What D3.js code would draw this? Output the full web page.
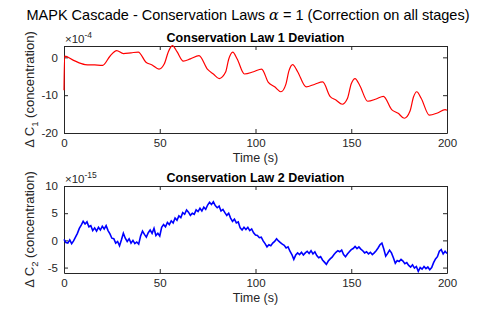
<!DOCTYPE html>
<html>
<head>
<meta charset="utf-8">
<script src="https://cdn.jsdelivr.net/npm/d3@7"></script>
<style>
  body { margin: 0; background: #fff; }
  svg { font-family: "Liberation Sans", Arial, sans-serif; }
  .tick text { fill: #262626; font-size: 11.5px; }
  .domain, .tick line { stroke: #262626; }
</style>
</head>
<body>
<svg width="495" height="315"></svg>
<script>
// Conservation law 1 (units of 1e-4)
var law1Time = [0, 0.3, 5, 11, 16, 20.2, 24, 27.5, 31, 35, 38.8, 42.8, 46, 49.6, 52.4, 54.5, 56.6, 59, 62.3, 66,
  70.5, 75, 78, 81.1, 84.4, 86, 88.1, 90.5, 94.2, 99, 103.2, 106.7, 110, 113.3, 115.8, 117.5, 119.4, 122, 126.4,
  131, 135.1, 138.9, 142, 145.3, 148, 150, 152, 154.5, 158.6, 163, 166.8, 171.1, 174.5, 177.7, 180.7, 182.5,
  184.2, 186.5, 190.8, 195, 199, 200]
var law1Value = [-8.7, 0.3, -0.8, -1.9, -2.0, -2.1, 0.3, 1.8, 1.0, 1.2, 1.4, -1.3, -2.0, -3.1, -1.7, 1.5, 3.1, 1.5, -1.0, -0.4,
  0.45, -3.2, -4.4, -5.6, -3.9, -0.5, 1.4, -0.5, -4.4, -3.8, -3.1, -6.6, -7.8, -9.1, -7.2, -3.5, -1.9, -3.8, -7.8,
  -7.1, -6.5, -10.3, -11.3, -12.4, -10.9, -7.0, -5.6, -7.5, -11.6, -11.0, -10.3, -13.8, -14.8, -16.1, -14.2, -10.5,
  -9.1, -10.8, -15.3, -14.7, -13.8, -14.0]

// Conservation law 2 (units of 1e-15), one value per second, t = 0..200
var law2Value = [0.2, -0.4, -0.5, 0.1, -0.6, -0.1, 0.6, 1.3, 2.2, 2.8, 3.5, 3.0, 3.4, 2.5, 2.7, 1.8, 2.3, 1.7, 2.4, 1.9,
  2.6, 2.1, 2.7, 1.8, 1.2, 0.4, 0.3, -0.5, -0.2, -1.0, 0.1, 1.3, 0.4, -0.2, 0.3, -0.5, 0.0, -0.6, -0.3, -0.7,
  0.8, 1.7, 1.1, 0.6, 1.4, 1.9, 1.3, 2.2, 0.9, 1.3, 0.8, 2.4, 2.9, 2.5, 3.3, 2.9, 3.6, 3.2, 4.1, 3.7,
  4.5, 4.2, 5.1, 4.8, 5.6, 5.2, 4.6, 5.0, 4.8, 5.6, 5.3, 5.9, 5.4, 6.1, 5.7, 6.5, 7.0, 6.6, 7.1, 6.4,
  6.0, 6.3, 5.4, 5.7, 5.1, 4.6, 5.0, 4.1, 3.5, 3.9, 3.2, 3.4, 2.3, 1.9, 2.4, 2.0, 2.4, 1.8, 2.1, 1.4,
  1.0, 0.9, 0.5, 0.6, -0.1, -0.6, -1.2, -0.8, -1.0, -0.5, -0.2, 0.3, -0.1, -0.4, -0.7, -0.9, -1.4, -1.2, -2.0, -2.6,
  -3.5, -2.7, -2.3, -2.6, -2.2, -2.7, -2.3, -2.0, -2.4, -1.9, -2.5, -2.1, -2.8, -3.2, -3.0, -3.6, -4.0, -4.4, -3.8, -3.4,
  -3.1, -2.6, -2.2, -1.9, -2.1, -1.8, -2.6, -3.0, -2.5, -2.1, -1.7, -1.5, -1.1, -1.5, -1.2, -1.6, -1.9, -2.3, -2.1, -2.5,
  -2.2, -2.6, -2.3, -1.9, -1.4, -0.8, -0.5, -1.6, -2.9, -2.4, -1.8, -2.3, -3.2, -4.2, -3.7, -3.9, -3.5, -3.8, -4.3, -4.1,
  -4.6, -4.9, -4.5, -5.1, -4.8, -5.7, -5.0, -5.3, -4.8, -5.2, -4.9, -5.4, -5.0, -4.1, -3.4, -3.0, -2.0, -1.7, -2.5, -2.0,
  -2.4]

var xTicks = [0, 50, 100, 150, 200]
var law1Ticks = [-20, -10, 0]
var law2Ticks = [-5, 0, 5, 10]

var svg = d3.select("svg")
var left = 64, right = 447

svg.append("text")
  .attr("x", 248).attr("y", 20)
  .attr("text-anchor", "middle")
  .style("font-size", "14.5px")
  .html("MAPK Cascade - Conservation Laws <tspan font-family='DejaVu Serif' font-style='italic'>α</tspan> = 1 (Correction on all stages)")

function drawPanel(opts) {
  var x = d3.scaleLinear().domain([0, 200]).range([left, right])
  var y = d3.scaleLinear().domain(opts.domain).range([opts.bottom, opts.top])
  var g = svg.append("g")

  g.append("g").attr("transform", "translate(0," + opts.bottom + ")")
    .call(d3.axisBottom(x).tickValues(xTicks).tickSize(-4).tickPadding(6).tickSizeOuter(0))
  g.append("g").attr("transform", "translate(0," + opts.top + ")")
    .call(d3.axisTop(x).tickValues(xTicks).tickSize(-4).tickSizeOuter(0).tickFormat(""))
  g.append("g").attr("transform", "translate(" + left + ",0)")
    .call(d3.axisLeft(y).tickValues(opts.ticks).tickSize(-4).tickPadding(6).tickSizeOuter(0))
  g.append("g").attr("transform", "translate(" + right + ",0)")
    .call(d3.axisRight(y).tickValues(opts.ticks).tickSize(-4).tickSizeOuter(0).tickFormat(""))
  g.selectAll(".tick text").text(function(d) { return d3.select(this).text().replace("−", "-") })

  g.append("path")
    .datum(opts.data)
    .attr("fill", "none")
    .attr("stroke", opts.color)
    .attr("stroke-width", opts.width)
    .attr("d", d3.line().x(d => x(d[0])).y(d => y(d[1])).curve(opts.curve))

  g.append("text")
    .attr("x", (left + right) / 2).attr("y", opts.top - 4)
    .attr("text-anchor", "middle")
    .style("font-size", "12.5px").style("font-weight", "bold")
    .text(opts.title)

  g.append("text")
    .attr("x", left + 1).attr("y", opts.top - 3)
    .style("font-size", "11.5px").attr("fill", "#262626")
    .html("×10<tspan dy='-5' font-size='8.5px'>" + opts.exp + "</tspan>")

  g.append("text")
    .attr("x", (left + right) / 2).attr("y", opts.bottom + 29)
    .attr("text-anchor", "middle")
    .style("font-size", "12.5px").attr("fill", "#262626")
    .text("Time (s)")

  g.append("text")
    .attr("transform", "translate(34," + (opts.top + opts.bottom) / 2 + ") rotate(-90)")
    .attr("text-anchor", "middle")
    .style("font-size", "13px").attr("fill", "#262626")
    .html("Δ C<tspan dy='4' font-size='9.5px'>" + opts.sub + "</tspan><tspan dy='-4'> (concentration)</tspan>")
}

drawPanel({
  top: 46, bottom: 133, domain: [-20, 3], ticks: law1Ticks,
  data: law1Time.map((t, i) => [t, law1Value[i]]),
  color: "#ff0000", title: "Conservation Law 1 Deviation", exp: "-4", sub: "1",
  curve: d3.curveMonotoneX, width: 1.2
})

drawPanel({
  top: 186, bottom: 273, domain: [-6, 10], ticks: law2Ticks,
  data: law2Value.map((v, i) => [i, v]),
  color: "#0000ff", title: "Conservation Law 2 Deviation", exp: "-15", sub: "2",
  curve: d3.curveLinear, width: 1.6
})
</script>
</body>
</html>
